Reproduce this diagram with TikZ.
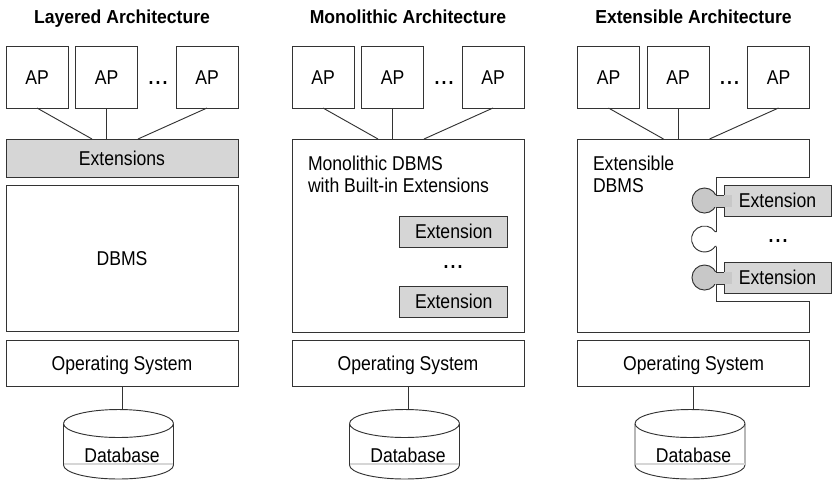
\documentclass[tikz,border=0pt]{standalone}
\usepackage{fontspec}
\setmainfont[FakeStretch=0.88]{Liberation Sans}
\newfontfamily\ttlfont[FakeStretch=0.935]{Liberation Sans}
\definecolor{ln}{HTML}{333333}
\definecolor{ltgray}{HTML}{D6D6D6}
\definecolor{midgray}{HTML}{C8C8C8}
\tikzset{
  base/.style={inner sep=0pt,outer sep=0pt,text height=10.6pt,text depth=0pt,text=black},
  box/.style={base,draw=ln,line width=0.7pt,fill=white},
  apbox/.style={box,minimum width=46.5pt,minimum height=46.5pt},
  osbox/.style={box,minimum width=174pt,minimum height=34.5pt},
  extbox/.style={box,fill=ltgray,minimum width=81pt,minimum height=23.25pt},
  wire/.style={draw=ln,line width=0.7pt},
  title/.style={base,font=\ttlfont\fontsize{14.1pt}{16.5pt}\selectfont\bfseries},
  dotsn/.style={base,font=\fontsize{15pt}{16.5pt}\selectfont\bfseries},
  caption/.style={inner sep=0pt,outer sep=0pt,align=left,anchor=north west,text=black},
}
\newcommand{\mydots}{.\kern1.6pt.\kern1.6pt.}
\begin{document}
\begin{tikzpicture}[x=0.75pt,y=-0.75pt,font=\fontsize{15pt}{16.5pt}\selectfont]
\useasboundingbox (0,0) rectangle (832,480);
% layered top
\node[box,fill=ltgray,minimum width=174pt,minimum height=28.5pt] (topa) at (122,158) {Extensions};
\node[box,minimum width=174pt,minimum height=109.5pt] (dbmsa) at (122,258) {DBMS};
% monolithic top
\node[box,minimum width=174pt,minimum height=144.75pt] (topb) at (408,235.5) {};
\node[caption] (capb) at (308,155.5) {Monolithic DBMS\\with Built-in Extensions};
\node[extbox] (extb1) at (453.7,231.5) {Extension};
\node[extbox] (extb2) at (453.7,301.5) {Extension};
\node[dotsn] (dotb) at (453,261) {\mydots};
% extensible top
\coordinate (topc) at (693.5,139);
\draw[wire,fill=white] (577.5,139) -- (809.5,139) -- (809.5,177) -- (716.5,177) -- (716.5,301) -- (809.5,301) -- (809.5,332) -- (577.5,332) -- cycle;
\node[caption] (capc) at (593,155.5) {Extensible\\DBMS};
\node[extbox,minimum width=80.25pt] (extc1) at (777.5,200.5) {Extension};
\node[extbox,minimum width=80.25pt] (extc2) at (777.5,277.5) {Extension};
\node[dotsn] (dotc) at (778,235) {\mydots};
% sockets
\foreach \n/\cy/\up/\dn in {sa/200.5/195/207,sc/277.5/272/284}{
  \draw[wire,fill=midgray] (704.5,\cy) circle[radius=9.4pt];
  \fill[midgray] (711,\up) rectangle (732,\dn);
  \draw[wire] (715.5,\up) -- (724,\up);
  \draw[wire] (715.5,\dn) -- (724,\dn);
}
\fill[white] (712,232) rectangle (722,246.5);
\draw[wire] (716.5,231.7) -- (715.3,231.7) arc[start angle=34,end angle=326,radius=9.75pt] -- (716.5,246.3);
\foreach \o/\c/\ttl in {0/a/Layered Architecture,286/b/Monolithic Architecture,571.5/c/Extensible Architecture}{
\begin{scope}[shift={(\o,0)}]
  \node[title] (t\c) at (122,16) {\ttl};
  \node[apbox] (apa\c) at (37,77) {AP};
  \node[apbox] (apb\c) at (106.5,77) {AP};
  \node[dotsn] (dot\c) at (158,77) {\mydots};
  \node[apbox] (apc\c) at (207,77) {AP};
  \coordinate (ja\c) at (92,139);
  \coordinate (jb\c) at (106.5,139);
  \coordinate (jc\c) at (138,139);
  \draw[wire] (apa\c.south) -- (ja\c);
  \draw[wire] (apb\c.south) -- (jb\c);
  \draw[wire] (apc\c.south) -- (jc\c);
  \node[osbox] (os\c) at (122,363) {Operating System};
  % database cylinder
  \coordinate (dbtop\c) at (122,410);
  \draw[wire,fill=white] (63.5,423.5) -- (63.5,465) arc[start angle=180,end angle=360,x radius=41.25pt,y radius=10.5pt] -- (173.5,423.5);
  \draw[wire] (63.5,423.5) arc[start angle=180,end angle=0,x radius=41.25pt,y radius=10.5pt];
  \draw[wire] (63.5,423.5) arc[start angle=180,end angle=360,x radius=41.25pt,y radius=10.5pt];
  \draw[ltgray,line width=0.9pt] (64,464) -- (173,464);
  \node[base] (db\c) at (122,455.5) {Database};
  \draw[wire] (os\c.south) -- (dbtop\c);
\end{scope}
}
\end{tikzpicture}
\end{document}
